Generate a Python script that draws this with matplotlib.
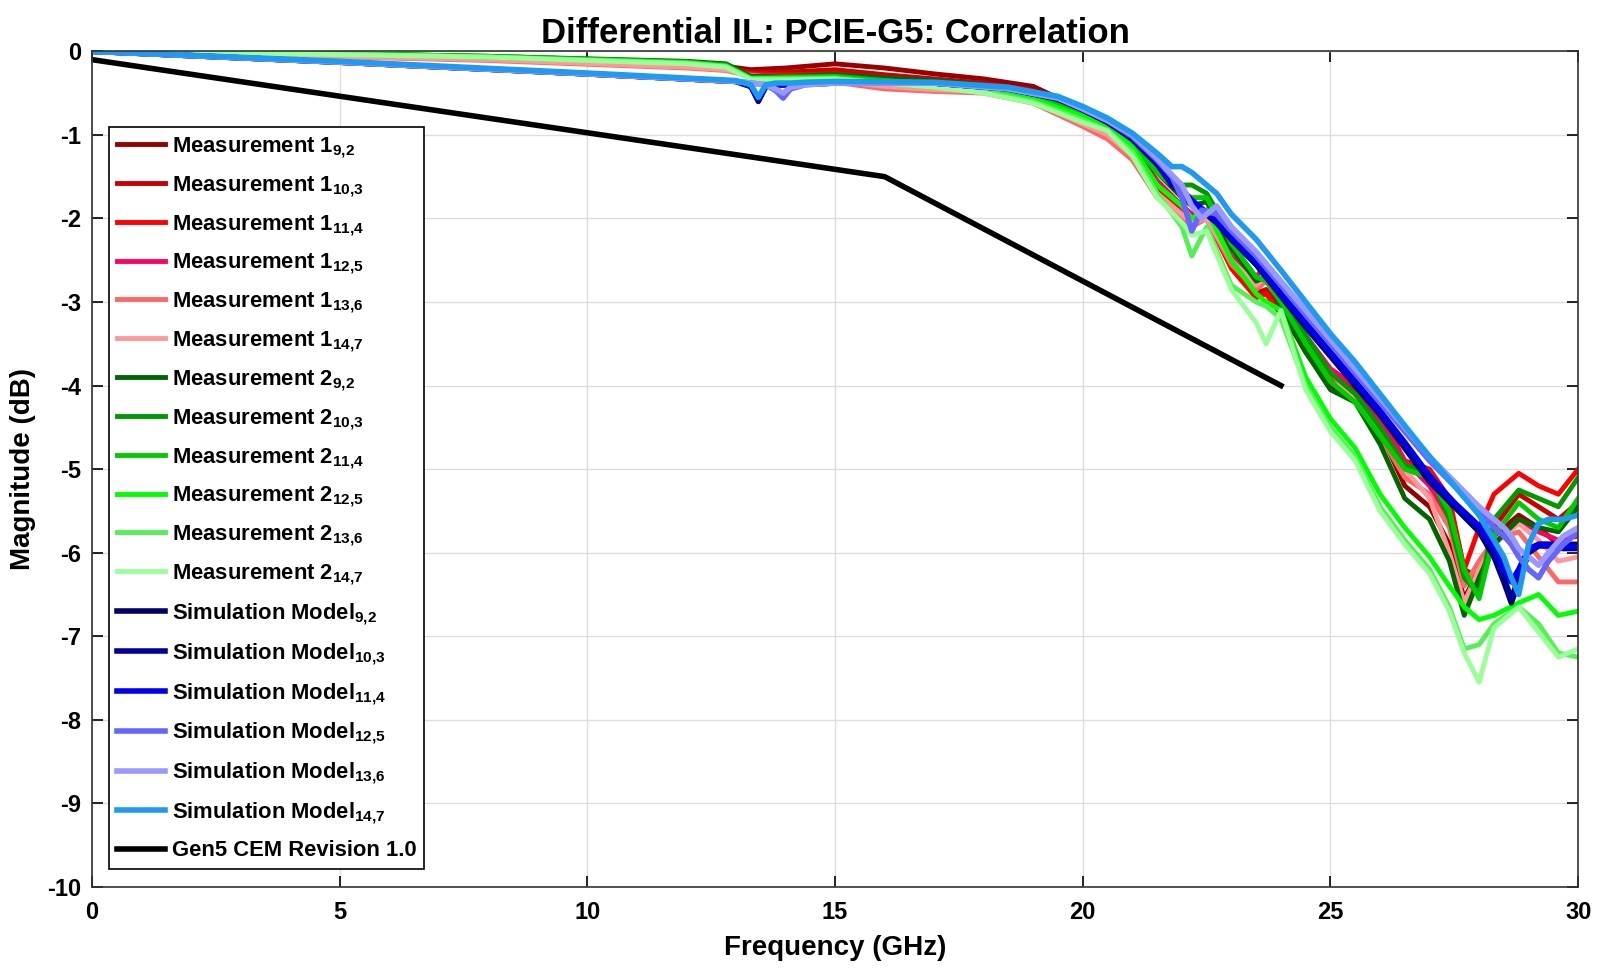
import matplotlib
matplotlib.use("Agg")
import matplotlib.pyplot as plt

plt.rcParams["font.family"] = ["Liberation Sans", "DejaVu Sans"]
plt.rcParams["font.weight"] = "bold"
plt.rcParams["mathtext.fontset"] = "custom"
plt.rcParams["mathtext.rm"] = "Liberation Sans:bold"
plt.rcParams["mathtext.bf"] = "Liberation Sans:bold"
plt.rcParams["mathtext.default"] = "bf"
plt.rcParams["axes.unicode_minus"] = False

# Measurement frequency grid (GHz)
meas_freq = [0, 4, 8, 12, 12.8, 13.3, 14, 15, 16, 17, 18, 19, 20,
             20.5, 21, 21.5, 22, 22.2, 22.5, 23, 23.5, 23.7, 24, 24.5, 25, 25.5,
             26, 26.5, 27, 27.4, 27.7, 28.0, 28.3, 28.8, 29.2, 29.6, 30]

meas1_92 = [0, -0.03, -0.08, -0.15, -0.18, -0.22, -0.2, -0.15, -0.2, -0.27, -0.33, -0.42, -0.7,
            -0.9, -1.15, -1.55, -1.85, -1.95, -1.9, -2.5, -2.85, -2.9, -3.1, -3.6, -4.0, -4.15,
            -4.55, -5.2, -5.45, -5.9, -6.55, -6.2, -5.8, -5.55, -5.7, -5.9, -5.75]
meas1_103 = [0, -0.03, -0.08, -0.16, -0.2, -0.25, -0.25, -0.22, -0.28, -0.33, -0.38, -0.47, -0.75,
             -0.95, -1.2, -1.6, -1.9, -2.0, -1.95, -2.55, -2.9, -2.85, -3.1, -3.5, -3.9, -4.05,
             -4.45, -5.0, -5.1, -5.4, -6.2, -6.3, -5.7, -5.3, -5.45, -5.6, -5.4]
meas1_114 = [0, -0.04, -0.09, -0.17, -0.2, -0.27, -0.28, -0.27, -0.32, -0.37, -0.42, -0.52, -0.8,
             -1.0, -1.25, -1.65, -1.95, -2.05, -2.0, -2.6, -2.95, -2.9, -3.15, -3.5, -3.85, -4.0,
             -4.35, -4.9, -5.0, -5.35, -6.2, -5.7, -5.3, -5.05, -5.2, -5.3, -5.0]
meas1_125 = [0, -0.04, -0.1, -0.18, -0.21, -0.28, -0.3, -0.3, -0.36, -0.4, -0.45, -0.55, -0.82,
             -0.95, -1.2, -1.55, -1.85, -1.95, -1.9, -2.45, -2.7, -2.55, -2.9, -3.4, -3.8, -4.0,
             -4.4, -4.9, -5.2, -5.6, -6.3, -6.4, -5.9, -5.6, -5.75, -5.85, -5.8]
meas1_136 = [0, -0.05, -0.11, -0.2, -0.23, -0.3, -0.33, -0.37, -0.45, -0.48, -0.5, -0.62, -0.9,
             -1.05, -1.3, -1.75, -2.0, -2.1, -2.0, -2.55, -2.85, -2.75, -3.0, -3.55, -3.95, -4.2,
             -4.6, -5.1, -5.3, -5.7, -6.4, -6.1, -5.85, -5.75, -6.05, -6.35, -6.35]
meas1_147 = [0, -0.05, -0.1, -0.19, -0.22, -0.29, -0.32, -0.35, -0.42, -0.46, -0.48, -0.6, -0.87,
             -1.0, -1.25, -1.7, -1.95, -2.05, -2.0, -2.5, -2.8, -2.7, -2.95, -3.45, -3.85, -4.15,
             -4.55, -5.0, -5.35, -6.0, -6.6, -6.2, -5.9, -5.65, -5.85, -6.1, -6.05]
meas2_92 = [0, -0.02, -0.06, -0.12, -0.15, -0.3, -0.3, -0.28, -0.32, -0.35, -0.4, -0.5, -0.7,
            -0.85, -1.1, -1.45, -1.75, -1.85, -1.8, -2.35, -2.75, -2.7, -3.05, -3.6, -4.05, -4.2,
            -4.7, -5.35, -5.6, -6.1, -6.75, -6.3, -5.9, -5.6, -5.7, -5.75, -5.45]
meas2_103 = [0, -0.02, -0.06, -0.13, -0.16, -0.32, -0.3, -0.3, -0.35, -0.38, -0.42, -0.52, -0.72,
             -0.8, -1.05, -1.4, -1.6, -1.6, -1.7, -2.2, -2.55, -2.6, -2.95, -3.4, -3.85, -4.1,
             -4.5, -4.95, -5.05, -5.6, -6.3, -6.5, -5.6, -5.25, -5.35, -5.45, -5.1]
meas2_114 = [0, -0.02, -0.06, -0.13, -0.17, -0.32, -0.32, -0.3, -0.35, -0.4, -0.45, -0.55, -0.75,
             -0.85, -1.1, -1.45, -1.7, -1.75, -1.75, -2.3, -2.7, -2.75, -3.0, -3.5, -3.95, -4.2,
             -4.6, -5.0, -5.1, -5.5, -6.2, -6.55, -5.8, -5.4, -5.6, -5.7, -5.35]
meas2_125 = [0, -0.02, -0.07, -0.14, -0.18, -0.33, -0.32, -0.32, -0.37, -0.42, -0.47, -0.57, -0.78,
             -0.9, -1.15, -1.6, -1.85, -2.0, -1.9, -2.5, -2.9, -3.0, -3.1, -3.9, -4.4, -4.75,
             -5.3, -5.7, -6.05, -6.4, -6.65, -6.8, -6.75, -6.6, -6.5, -6.75, -6.7]
meas2_136 = [0, -0.02, -0.07, -0.14, -0.18, -0.33, -0.33, -0.33, -0.38, -0.43, -0.48, -0.6, -0.82,
             -0.95, -1.2, -1.7, -2.1, -2.45, -2.1, -2.8, -3.0, -3.05, -3.2, -4.0, -4.5, -4.85,
             -5.45, -5.85, -6.2, -6.65, -7.15, -7.1, -6.85, -6.65, -6.85, -7.2, -7.25]
meas2_147 = [0, -0.03, -0.07, -0.15, -0.19, -0.34, -0.34, -0.33, -0.38, -0.43, -0.5, -0.62, -0.85,
             -0.95, -1.25, -1.75, -2.05, -2.2, -2.15, -2.85, -3.25, -3.5, -3.1, -4.05, -4.55, -4.9,
             -5.5, -5.9, -6.25, -6.7, -7.2, -7.55, -6.9, -6.65, -6.95, -7.25, -7.15]

# Simulation frequency grid (GHz)
sim_freq = [0, 5, 10, 13.0, 13.3, 13.45, 13.6, 13.8, 13.95, 14.1, 14.4, 15, 17, 18.5, 19.5,
            20, 20.5, 21, 21.5, 21.8, 22.0, 22.2, 22.4, 22.7, 23, 23.5, 24, 24.5, 25, 25.5,
            26, 26.5, 27, 27.5, 28, 28.3, 28.5, 28.65, 28.8, 29.0, 29.2, 29.4, 29.7, 30]

sim_92 = [0, -0.13, -0.27, -0.36, -0.42, -0.6, -0.42, -0.4, -0.4, -0.4, -0.39, -0.38, -0.38, -0.45, -0.57,
          -0.7, -0.85, -1.05, -1.35, -1.58, -1.68, -1.8, -1.9, -2.05, -2.25, -2.55, -2.93, -3.3, -3.65, -4.0,
          -4.35, -4.75, -5.15, -5.45, -5.75, -6.05, -6.35, -6.6, -6.35, -6.0, -5.9, -5.9, -5.9, -5.9]
sim_103 = [0, -0.13, -0.27, -0.36, -0.42, -0.58, -0.42, -0.4, -0.4, -0.4, -0.39, -0.38, -0.38, -0.45, -0.57,
           -0.7, -0.85, -1.05, -1.35, -1.6, -1.7, -1.82, -1.9, -2.05, -2.25, -2.55, -2.92, -3.28, -3.63, -3.98,
           -4.33, -4.72, -5.12, -5.43, -5.72, -6.0, -6.3, -6.55, -6.3, -6.0, -5.92, -5.92, -5.95, -5.95]
sim_114 = [0, -0.13, -0.27, -0.36, -0.42, -0.57, -0.42, -0.4, -0.4, -0.4, -0.39, -0.38, -0.38, -0.45, -0.56,
           -0.69, -0.84, -1.03, -1.33, -1.57, -1.66, -1.78, -1.88, -2.03, -2.22, -2.52, -2.9, -3.25, -3.6, -3.95,
           -4.3, -4.68, -5.08, -5.4, -5.68, -5.95, -6.2, -6.35, -6.2, -5.95, -5.9, -5.9, -5.92, -5.93]
sim_125 = [0, -0.13, -0.27, -0.36, -0.38, -0.39, -0.4, -0.47, -0.56, -0.45, -0.4, -0.38, -0.38, -0.45, -0.56,
           -0.69, -0.83, -1.02, -1.3, -1.5, -1.75, -2.15, -1.9, -1.95, -2.15, -2.45, -2.8, -3.15, -3.5, -3.85,
           -4.2, -4.55, -4.9, -5.2, -5.5, -5.7, -5.8, -5.9, -6.05, -6.2, -6.3, -6.1, -5.9, -5.75]
sim_136 = [0, -0.13, -0.27, -0.36, -0.38, -0.39, -0.4, -0.45, -0.5, -0.43, -0.4, -0.38, -0.38, -0.45, -0.56,
           -0.69, -0.83, -1.0, -1.28, -1.48, -1.6, -1.85, -2.0, -1.85, -2.1, -2.4, -2.75, -3.1, -3.45, -3.8,
           -4.15, -4.5, -4.85, -5.15, -5.45, -5.6, -5.7, -5.8, -5.95, -6.05, -6.15, -6.0, -5.8, -5.7]
sim_147 = [0, -0.12, -0.26, -0.35, -0.4, -0.55, -0.4, -0.38, -0.38, -0.38, -0.37, -0.36, -0.37, -0.43, -0.54,
           -0.66, -0.8, -0.98, -1.22, -1.38, -1.38, -1.45, -1.55, -1.7, -1.95, -2.25, -2.62, -3.0, -3.38, -3.72,
           -4.1, -4.48, -4.85, -5.2, -5.55, -5.85, -6.05, -6.3, -6.5, -5.9, -5.65, -5.6, -5.6, -5.55]

# PCIe Gen5 CEM limit line
cem_freq = [0, 16, 24]
cem_limit = [-0.1, -1.5, -4.0]

meas_series = [meas1_92, meas1_103, meas1_114, meas1_125, meas1_136, meas1_147,
               meas2_92, meas2_103, meas2_114, meas2_125, meas2_136, meas2_147]
meas_labels = [r"Measurement 1$_{9{,}2}$", r"Measurement 1$_{10{,}3}$", r"Measurement 1$_{11{,}4}$",
               r"Measurement 1$_{12{,}5}$", r"Measurement 1$_{13{,}6}$", r"Measurement 1$_{14{,}7}$",
               r"Measurement 2$_{9{,}2}$", r"Measurement 2$_{10{,}3}$", r"Measurement 2$_{11{,}4}$",
               r"Measurement 2$_{12{,}5}$", r"Measurement 2$_{13{,}6}$", r"Measurement 2$_{14{,}7}$"]
meas_colors = ["#990000", "#CC0000", "#FF0000", "#FF0066", "#FF6666", "#FF9999",
               "#006600", "#009900", "#00CC00", "#00FF00", "#55F055", "#99FF99"]

sim_series = [sim_92, sim_103, sim_114, sim_125, sim_136, sim_147]
sim_labels = [r"Simulation Model$_{9{,}2}$", r"Simulation Model$_{10{,}3}$", r"Simulation Model$_{11{,}4}$",
              r"Simulation Model$_{12{,}5}$", r"Simulation Model$_{13{,}6}$", r"Simulation Model$_{14{,}7}$"]
sim_colors = ["#000066", "#000099", "#0000EE", "#6666FF", "#9999FF", "#1E9BF0"]

fig = plt.figure(figsize=(15.98, 9.68), dpi=100)
ax = fig.add_axes([0.0576, 0.0837, 0.93, 0.8633])

for vals, lab, col in zip(meas_series, meas_labels, meas_colors):
    ax.plot(meas_freq, vals, color=col, linewidth=3.5, label=lab)

for vals, lab, col in zip(sim_series, sim_labels, sim_colors):
    ax.plot(sim_freq, vals, color=col, linewidth=4, label=lab)

ax.plot(cem_freq, cem_limit, color="black", linewidth=4, label="Gen5 CEM Revision 1.0")

ax.set_xlim(0, 30)
ax.set_ylim(-10, 0)
ax.set_xticks(range(0, 31, 5))
ax.set_yticks(range(-10, 1, 1))
ax.tick_params(direction="in", top=True, right=True, labelsize=17, length=8, width=1.2)
ax.tick_params(axis="x", pad=10)
ax.tick_params(axis="y", pad=8)
for lbl in ax.get_xticklabels() + ax.get_yticklabels():
    lbl.set_fontweight("bold")
ax.grid(True, color="#DDDDDD", linewidth=1)
for sp in ax.spines.values():
    sp.set_linewidth(1.2)
    sp.set_color("#333333")

ax.set_xlabel("Frequency (GHz)", fontsize=20, fontweight="bold", labelpad=8)
ax.set_ylabel("Magnitude (dB)", fontsize=20, fontweight="bold", labelpad=8)
ax.set_title("Differential IL: PCIE-G5: Correlation", fontsize=25, fontweight="bold", pad=6)

leg = ax.legend(loc="upper left", bbox_to_anchor=(0.0114, 0.909), fontsize=15.8,
                frameon=True, fancybox=False, edgecolor="black", framealpha=1,
                handlelength=2.2, handletextpad=0.3, labelspacing=0.64, borderaxespad=0,
                borderpad=0.35)
leg.get_frame().set_linewidth(1.2)

fig.savefig("out.png", dpi=100)
